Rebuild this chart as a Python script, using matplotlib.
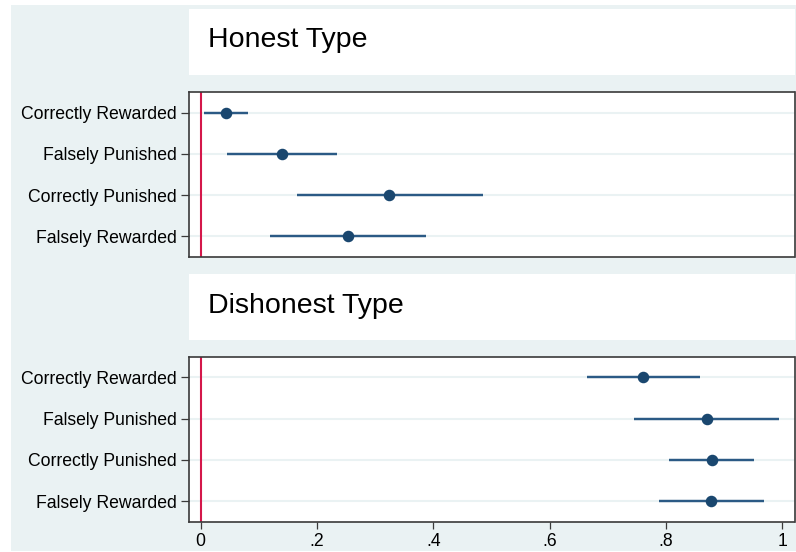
import matplotlib
matplotlib.use("Agg")
import matplotlib.pyplot as plt
from matplotlib.patches import Rectangle

# ---- data ----
categories = ["Correctly Rewarded", "Falsely Punished", "Correctly Punished", "Falsely Rewarded"]
panel_titles = ["Honest Type", "Dishonest Type"]
honest_est = [0.043, 0.139, 0.324, 0.254]
honest_lo = [0.006, 0.045, 0.165, 0.120]
honest_hi = [0.081, 0.234, 0.485, 0.387]
dishonest_est = [0.761, 0.870, 0.879, 0.878]
dishonest_lo = [0.664, 0.745, 0.805, 0.788]
dishonest_hi = [0.859, 0.995, 0.952, 0.968]
xtick_values = [0, 0.2, 0.4, 0.6, 0.8, 1.0]
xtick_labels = ["0", ".2", ".4", ".6", ".8", "1"]

# ---- style ----
plt.rcParams['font.family'] = ['Liberation Sans', 'DejaVu Sans']
BG = "#EAF2F3"
NAVY = "#1A476F"
LINE = "#2B5A85"
RED = "#D4174A"
SPINE = "#3A3A3A"

W, H = 796, 552
fig = plt.figure(figsize=(W / 100, H / 100), dpi=100, facecolor="white")

# outer light background
fig.patches.append(Rectangle((11 / W, 1 / H), (W - 11) / W, (H - 6) / H,
                             transform=fig.transFigure, facecolor=BG,
                             edgecolor="none", zorder=-10))

def px_rect(x0, y0, x1, y1):
    return [x0 / W, (H - y1) / H, (x1 - x0) / W, (y1 - y0) / H]

panels = [
    dict(est=honest_est, lo=honest_lo, hi=honest_hi,
         ax=px_rect(189, 92, 794.5, 256.8), box=(189, 8.7, 795, 75), base=47,
         xlabels=False),
    dict(est=dishonest_est, lo=dishonest_lo, hi=dishonest_hi,
         ax=px_rect(189, 356.8, 794.5, 521.8), box=(189, 274, 795, 340), base=312.7,
         xlabels=True),
]

ypos = list(range(1, len(categories) + 1))

for title, p in zip(panel_titles, panels):
    bx0, by0, bx1, by1 = p["box"]
    fig.patches.append(Rectangle((bx0 / W, (H - by1) / H), (bx1 - bx0) / W, (by1 - by0) / H,
                                 transform=fig.transFigure, facecolor="white",
                                 edgecolor="none", zorder=-5))
    fig.text(208 / W, (H - p["base"]) / H, title, fontsize=20.5, va="baseline",
             ha="left", color="black")

    ax = fig.add_axes(p["ax"])
    ax.set_facecolor("white")
    ax.set_xlim(-0.0201, 1.0211)
    ax.set_ylim(len(categories) + 0.5, 0.5)
    for y in ypos:
        ax.axhline(y, color=BG, lw=1.5, zorder=1)
    ax.axvline(0, color=RED, lw=1.5, zorder=2)
    ax.hlines(ypos, p["lo"], p["hi"], color=LINE, lw=1.75, zorder=3)
    ax.plot(p["est"], ypos, "o", color=NAVY, markersize=7.3, zorder=4)

    ax.set_yticks(ypos)
    ax.set_yticklabels(categories, fontsize=12.7)
    ax.tick_params(axis="y", length=6, width=0.9, color=SPINE, pad=3)
    ax.set_xticks(xtick_values)
    if p["xlabels"]:
        ax.set_xticklabels(xtick_labels, fontsize=12.7)
        ax.tick_params(axis="x", length=5, width=0.9, color=SPINE, pad=3)
    else:
        ax.tick_params(axis="x", length=0, labelbottom=False)
    for s in ax.spines.values():
        s.set_color(SPINE)
        s.set_linewidth(1.2)

fig.savefig("out.png", dpi=100, facecolor=fig.get_facecolor())
